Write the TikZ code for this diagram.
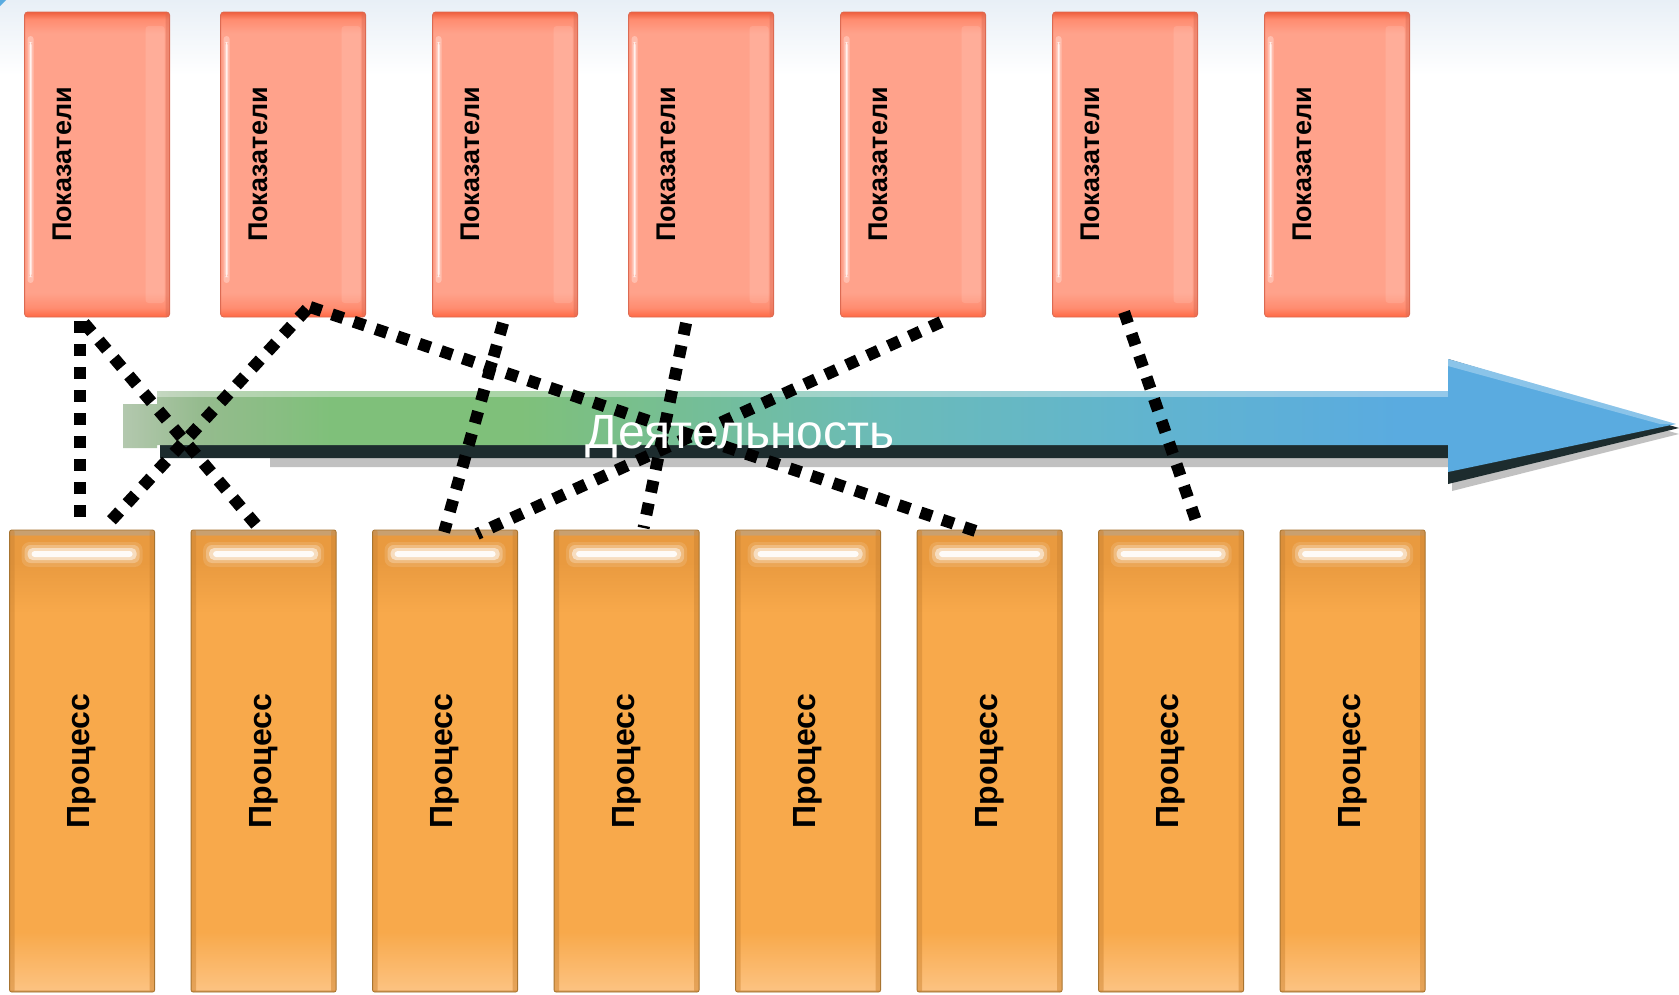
\documentclass[tikz,border=0pt]{standalone}
\usepackage{fontspec}
\setmainfont{Liberation Sans}
\usepackage{tikz}
\usetikzlibrary{positioning}

\definecolor{indtop}{HTML}{EE5F3E}
\definecolor{indsoft}{HTML}{FF8C70}
\definecolor{indmid}{HTML}{FFA28B}
\definecolor{indbot}{HTML}{FF6843}
\definecolor{indedge}{HTML}{DC6A52}
\definecolor{proctop}{HTML}{E99A3F}
\definecolor{procmid}{HTML}{F8A94B}
\definecolor{proclight}{HTML}{FCC280}
\definecolor{procrim}{HTML}{A87430}
\definecolor{procstrip}{HTML}{C9A06F}
\definecolor{procside}{HTML}{CF8634}
\definecolor{actdark}{HTML}{1D2C2E}
\definecolor{actpale}{HTML}{B3C8AE}
\definecolor{actgrey}{HTML}{95BB8E}
\definecolor{actgreen}{HTML}{7FC07A}
\definecolor{actmint}{HTML}{74BE98}
\definecolor{actteal}{HTML}{6BBBB8}
\definecolor{actsky}{HTML}{62B5CD}
\definecolor{actblue}{HTML}{5AABE0}
\definecolor{bandblue}{HTML}{E8EFF6}

\pgfdeclareverticalshading{indshade}{100bp}{color(0bp)=(indbot); color(25bp)=(indbot); color(26.5bp)=(indsoft); color(29bp)=(indmid); color(71.5bp)=(indmid); color(73.8bp)=(indsoft); color(75bp)=(indtop); color(100bp)=(indtop)}
\pgfdeclareverticalshading{procshade}{100bp}{color(0bp)=(procrim); color(25bp)=(procrim); color(25.3bp)=(proclight); color(31.5bp)=(procmid); color(66bp)=(procmid); color(71.5bp)=(proctop); color(74.4bp)=(proctop); color(74.5bp)=(procstrip); color(100bp)=(procstrip)}
\pgfdeclarehorizontalshading{actshade}{100bp}{color(0bp)=(actpale); color(25bp)=(actpale); color(27.5bp)=(actgrey); color(31.7bp)=(actgreen); color(37.8bp)=(actgreen); color(43.6bp)=(actmint); color(49.4bp)=(actteal); color(57.1bp)=(actsky); color(66.1bp)=(actblue); color(100bp)=(actblue)}

\begin{document}
\begin{tikzpicture}[x=1pt, y=-1pt,
            indicator/.style={rectangle, rounded corners=3pt, minimum width=145pt, minimum height=305pt, inner sep=0pt, outer sep=0pt, draw=indedge, line width=0.8pt, shade, shading=indshade,
              path picture={
                \fill[white, opacity=.3] ([xshift=3pt, yshift=-24pt]path picture bounding box.north west) rectangle ([xshift=9pt, yshift=34pt]path picture bounding box.south west);
                \fill[white, opacity=.8] ([xshift=5pt, yshift=-30pt]path picture bounding box.north west) rectangle ([xshift=7pt, yshift=40pt]path picture bounding box.south west);
                \fill[white, opacity=.12] ([xshift=-24pt, yshift=-14pt]path picture bounding box.north east) rectangle ([xshift=-5pt, yshift=14pt]path picture bounding box.south east);
                \fill[indedge, opacity=.45] ([xshift=-4pt]path picture bounding box.north east) rectangle (path picture bounding box.south east);}},
            indlabel/.style={rotate=90, inner sep=0pt, font=\bfseries\fontsize{27}{32}\selectfont},
            process/.style={rectangle, rounded corners=2pt, minimum width=145pt, minimum height=462pt, inner sep=0pt, outer sep=0pt, draw=procrim, line width=0.8pt, shade, shading=procshade, font=\bfseries\fontsize{32}{38}\selectfont,
              path picture={
                \fill[procside, opacity=.5] (path picture bounding box.north west) rectangle ([xshift=5pt]path picture bounding box.south west);
                \fill[procside, opacity=.5] ([xshift=-5pt]path picture bounding box.north east) rectangle (path picture bounding box.south east);
                \fill[white, opacity=.12, rounded corners=8pt] ([xshift=12pt, yshift=-12pt]path picture bounding box.north west) rectangle ([xshift=-12pt, yshift=-37pt]path picture bounding box.north east);
                \fill[white, opacity=.25, rounded corners=6pt] ([xshift=15pt, yshift=-15pt]path picture bounding box.north west) rectangle ([xshift=-15pt, yshift=-33pt]path picture bounding box.north east);
                \fill[white, opacity=.5, rounded corners=5pt] ([xshift=18pt, yshift=-18pt]path picture bounding box.north west) rectangle ([xshift=-18pt, yshift=-30pt]path picture bounding box.north east);
                \fill[white, opacity=.9, rounded corners=3pt] ([xshift=22pt, yshift=-21pt]path picture bounding box.north west) rectangle ([xshift=-22pt, yshift=-27pt]path picture bounding box.north east);}},
            link/.style={line width=12pt, dash pattern=on 12pt off 11pt, black}]

            \useasboundingbox (0,0) rectangle (1679,994);
            \fill[white] (0,0) rectangle (1679,994);
            \shade[top color=bandblue, bottom color=white] (0,0) rectangle (1679,75);
            \fill[actblue] (0,0) -- (6,0) -- (0,6) -- cycle;

            % Indicators
            \node (t1) [indicator, anchor=north west] at (24.6,12) {};
            \node (t2) [indicator, right=51pt of t1] {};
            \node (t3) [indicator, right=67pt of t2] {};
            \node (t4) [indicator, right=51pt of t3] {};
            \node (t5) [indicator, right=67pt of t4] {};
            \node (t6) [indicator, right=67pt of t5] {};
            \node (t7) [indicator, right=67pt of t6] {};
            \node (tl1) [indlabel] at ([xshift=-35pt]t1.center) {Показатели};
            \node (tl2) [indlabel] at ([xshift=-35pt]t2.center) {Показатели};
            \node (tl3) [indlabel] at ([xshift=-35pt]t3.center) {Показатели};
            \node (tl4) [indlabel] at ([xshift=-35pt]t4.center) {Показатели};
            \node (tl5) [indlabel] at ([xshift=-35pt]t5.center) {Показатели};
            \node (tl6) [indlabel] at ([xshift=-35pt]t6.center) {Показатели};
            \node (tl7) [indlabel] at ([xshift=-35pt]t7.center) {Показатели};

            % Processes
            \node (b1) [process, anchor=north west] at (9.6,530) {\rotatebox{90}{Процесс}};
            \node (b2) [process, right=36.5pt of b1] {\rotatebox{90}{Процесс}};
            \node (b3) [process, right=36.5pt of b2] {\rotatebox{90}{Процесс}};
            \node (b4) [process, right=36.5pt of b3] {\rotatebox{90}{Процесс}};
            \node (b5) [process, right=36.5pt of b4] {\rotatebox{90}{Процесс}};
            \node (b6) [process, right=36.5pt of b5] {\rotatebox{90}{Процесс}};
            \node (b7) [process, right=36.5pt of b6] {\rotatebox{90}{Процесс}};
            \node (b8) [process, right=36.5pt of b7] {\rotatebox{90}{Процесс}};

            % Activity arrow
            \fill[gray!80, opacity=.6] (270,400) -- (1452,400) -- (1452,368) -- (1679,434) -- (1452,491) -- (1452,467) -- (270,467) -- cycle;
            \fill[actdark] (160,391) -- (1448,391) -- (1448,359) -- (1679,428) -- (1448,484) -- (1448,458) -- (160,458) -- cycle;
            \shade[shading=actshade] (123,404) -- (157,404) -- (157,391) -- (1448,391) -- (1448,359) -- (1676,424) -- (1448,472) -- (1448,445) -- (157,445) -- (157,448) -- (123,448) -- cycle;
            \fill[white, opacity=.35] (157,391) rectangle (1448,397);
            \fill[white, opacity=.3] (1448,359) -- (1676,424) -- (1660,424) -- (1448,366) -- cycle;

            % Connections
            \draw [link] ([xshift=-17pt, yshift=-4pt]t1.south) -- ([xshift=-2pt, yshift=3pt]b1.north);
            \draw [link] ([xshift=-13pt, yshift=-6pt]t1.south) -- ([xshift=-4pt, yshift=1pt]b2.north);
            \draw [link] ([xshift=14pt, yshift=8pt]t2.south) -- ([xshift=25pt, yshift=5pt]b1.north);
            \draw [link] ([xshift=17pt, yshift=10pt]t2.south) -- ([xshift=-11pt, yshift=-2pt]b6.north);
            \draw [link] ([xshift=-2pt, yshift=-6pt]t3.south) -- ([xshift=-1pt, yshift=-2pt]b3.north);
            \draw [link] ([xshift=-15pt, yshift=-6pt]t4.south) -- ([xshift=17pt, yshift=2pt]b4.north);
            \draw [link] ([xshift=28pt, yshift=-5pt]t5.south) -- ([xshift=32pt, yshift=-4pt]b3.north);
            \draw [link] ([xshift=-1pt, yshift=5pt]t6.south) -- ([xshift=26pt, yshift=6pt]b7.north);

            \node (act) [anchor=base, text=white, font=\fontsize{48}{58}\selectfont] at (740,448) {Деятельность};
\end{tikzpicture}
\end{document}
